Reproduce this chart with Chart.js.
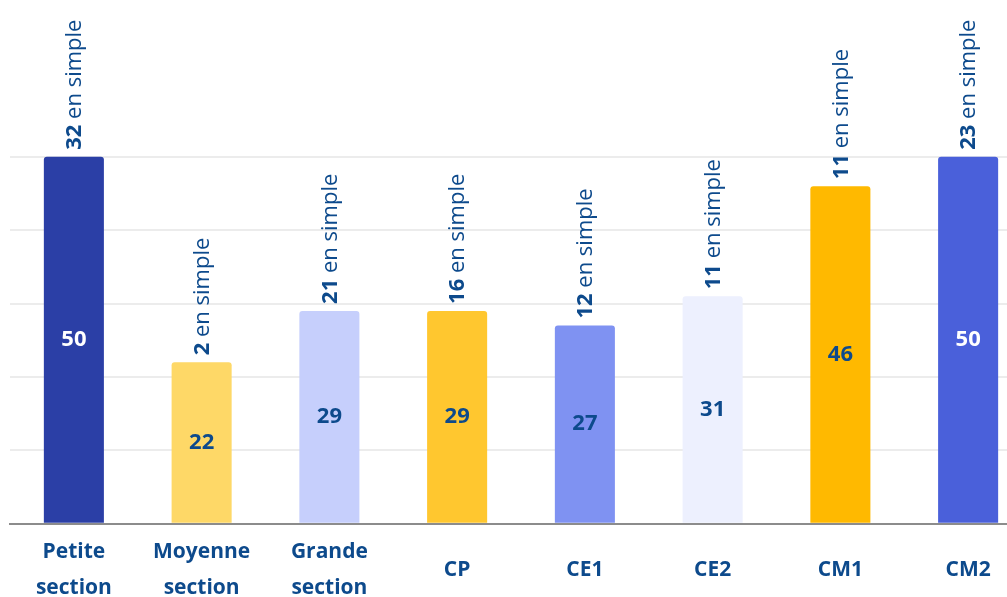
<!DOCTYPE html>
<html>
<head>
<meta charset="utf-8">
<script src="https://cdn.jsdelivr.net/npm/chart.js@4.4.1/dist/chart.umd.min.js"></script>
<style>
  html, body { margin: 0; padding: 0; background: #fff; overflow: hidden; }
  #wrap { position: relative; width: 1032px; height: 652px; }
</style>
</head>
<body>
<div id="wrap"><canvas id="classChart"></canvas></div>
<script>
var niveaux = [['Petite', 'section'], ['Moyenne', 'section'], ['Grande', 'section'], 'CP', 'CE1', 'CE2', 'CM1', 'CM2'];
var effectifs = [50, 22, 29, 29, 27, 31, 46, 50];
var enSimple = [32, 2, 21, 16, 12, 11, 11, 23];
var couleurs = ['#2b3fa6', '#fed867', '#c6cffc', '#ffc72f', '#7f92f2', '#edf0fe', '#ffb900', '#4a60da'];
var couleursTexte = ['#ffffff', '#0d4a8c', '#0d4a8c', '#0d4a8c', '#0d4a8c', '#0d4a8c', '#0d4a8c', '#ffffff'];

var bleuTexte = '#0d4a8c';
var police = '"Open Sans", sans-serif';

// etiquettes : valeur au milieu de la barre + "xx en simple" au-dessus
var etiquettes = {
    id: 'etiquettes',
    afterDatasetsDraw: function (chart) {
        var ctx = chart.ctx;
        var meta = chart.getDatasetMeta(0);
        meta.data.forEach(function (bar, i) {
            ctx.save();
            ctx.fillStyle = couleursTexte[i];
            ctx.textAlign = 'center';
            ctx.textBaseline = 'middle';
            ctx.font = 'bold 22px ' + police;
            ctx.fillText(effectifs[i], bar.x, (bar.y + bar.base) / 2);
            ctx.restore();

            ctx.save();
            ctx.translate(bar.x + 1, bar.y - 7);
            ctx.rotate(-Math.PI / 2);
            ctx.textAlign = 'left';
            ctx.textBaseline = 'middle';
            ctx.fillStyle = bleuTexte;
            ctx.font = 'bold 22px ' + police;
            var nb = String(enSimple[i]);
            ctx.fillText(nb, 0, 0);
            var w = ctx.measureText(nb).width;
            ctx.font = '22px ' + police;
            ctx.fillText(' en simple', w, 0);
            ctx.restore();
        });
    }
};

new Chart(document.getElementById('classChart').getContext('2d'), {
    type: 'bar',
    data: {
        labels: niveaux,
        datasets: [{
            data: effectifs,
            backgroundColor: couleurs,
            borderRadius: 3,
            borderSkipped: 'bottom',
            barPercentage: 0.47,
            categoryPercentage: 1
        }]
    },
    options: {
        responsive: true,
        maintainAspectRatio: false,
        animation: false,
        layout: { padding: { top: 10, left: 10, right: 0, bottom: 0 } },
        plugins: {
            legend: { display: false },
            tooltip: { enabled: false }
        },
        scales: {
            x: {
                grid: { display: false, drawTicks: false },
                border: { color: '#8c8c8c', width: 2 },
                ticks: {
                    color: bleuTexte,
                    padding: 28,
                    maxRotation: 0,
                    autoSkip: false,
                    crossAlign: 'center',
                    font: { family: police, size: 21, weight: 'bold', lineHeight: 1.72 }
                }
            },
            y: {
                min: 0,
                max: 70,
                ticks: { display: false, stepSize: 10 },
                border: { display: false },
                grid: {
                    drawTicks: false,
                    lineWidth: 2,
                    color: function (c) { return c.tick.value <= 50 ? '#ececec' : 'rgba(0,0,0,0)'; }
                }
            }
        }
    },
    plugins: [etiquettes]
});
</script>
</body>
</html>
